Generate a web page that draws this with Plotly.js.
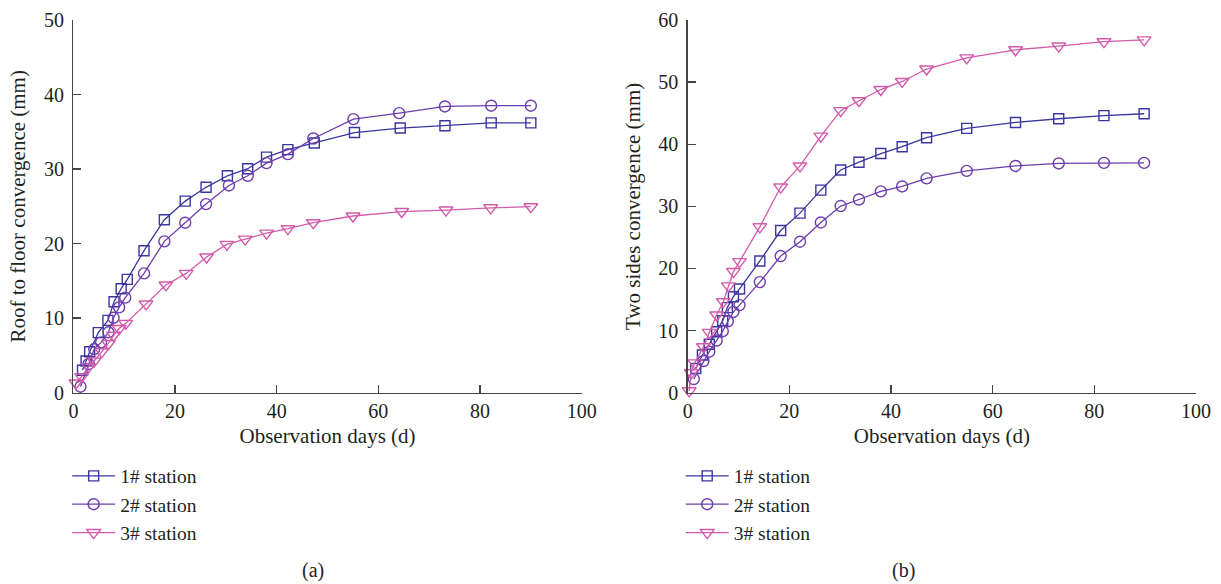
<!DOCTYPE html>
<html>
<head>
<meta charset="utf-8">
<script src="https://cdn.plot.ly/plotly-3.0.1.min.js"></script>
<style>html,body{margin:0;padding:0;background:#fff;}#chart{width:1221px;height:584px;}</style>
</head>
<body>
<div id="chart"></div>
<script>
// ---- Data (a) Roof to floor convergence ----
const seriesNames = ["1# station", "2# station", "3# station"];
const a1x = [1.8, 2.5, 3.2, 4.9, 6.8, 8.0, 9.4, 10.6, 13.9, 17.9, 22.0, 26.1, 30.3, 34.3, 38.0, 42.2, 47.4, 55.3, 64.3, 73.1, 82.2, 90.0];
const a1y = [3.0, 4.25, 5.5, 8.05, 9.7, 12.2, 13.95, 15.2, 19.05, 23.2, 25.7, 27.55, 29.1, 30.05, 31.6, 32.6, 33.5, 34.9, 35.5, 35.8, 36.2, 36.2];
const a2x = [1.4, 3.0, 4.1, 5.45, 6.9, 7.9, 9.0, 10.2, 13.9, 17.9, 22.0, 26.1, 30.6, 34.3, 38.0, 42.2, 47.2, 55.1, 64.1, 73.1, 82.2, 90.0];
const a2y = [0.8, 3.85, 5.85, 6.75, 8.1, 10.05, 11.45, 12.75, 16.0, 20.3, 22.8, 25.3, 27.8, 29.1, 30.8, 32.0, 34.1, 36.7, 37.5, 38.4, 38.5, 38.5];
const a3x = [0.5, 1.6, 3.0, 4.1, 5.6, 6.9, 7.9, 9.0, 10.3, 14.3, 18.2, 22.2, 26.2, 30.2, 33.8, 38.0, 42.2, 47.2, 55.0, 64.6, 73.3, 82.1, 90.0];
const a3y = [1.3, 2.15, 3.5, 4.25, 5.5, 6.6, 7.7, 8.6, 9.3, 11.9, 14.45, 16.0, 18.2, 19.9, 20.6, 21.4, 22.0, 22.8, 23.7, 24.3, 24.5, 24.8, 24.95];
// ---- Data (b) Two sides convergence ----
const b1x = [1.6, 2.9, 4.25, 5.7, 6.9, 7.8, 9.0, 10.2, 14.2, 18.3, 22.1, 26.2, 30.1, 33.7, 38.0, 42.2, 47.0, 54.9, 64.5, 73.0, 81.9, 89.8];
const b1y = [3.9, 6.07, 7.8, 9.8, 11.6, 13.7, 15.45, 16.7, 21.2, 26.1, 28.9, 32.6, 35.85, 37.1, 38.5, 39.6, 41.05, 42.55, 43.5, 44.1, 44.6, 44.9];
const b2x = [1.2, 3.1, 4.25, 5.7, 6.9, 7.9, 9.0, 10.2, 14.2, 18.3, 22.1, 26.2, 30.1, 33.7, 38.0, 42.2, 47.0, 54.9, 64.5, 73.0, 81.9, 89.8];
const b2y = [2.2, 5.1, 6.6, 8.4, 9.9, 11.5, 13.0, 14.1, 17.8, 22.0, 24.3, 27.4, 30.05, 31.1, 32.4, 33.2, 34.5, 35.7, 36.5, 36.9, 37.0, 37.0];
const b3x = [0.3, 0.7, 1.4, 3.1, 4.25, 5.7, 7.0, 8.0, 9.0, 10.2, 14.2, 18.3, 22.1, 26.2, 30.1, 33.7, 38.0, 42.2, 47.0, 54.9, 64.5, 73.0, 81.9, 89.8];
const b3y = [0.3, 3.2, 4.8, 7.4, 9.7, 12.5, 14.65, 17.2, 19.5, 21.1, 26.7, 33.1, 36.5, 41.3, 45.4, 47.0, 48.8, 50.1, 52.1, 53.9, 55.2, 55.8, 56.5, 56.8];

const xTicks = [0, 20, 40, 60, 80, 100];
const yTicksA = [0, 10, 20, 30, 40, 50];
const yTicksB = [0, 10, 20, 30, 40, 50, 60];

const colors = ["#3b35a0", "#6d3cae", "#d25aab"];
const symbols = ["square-open", "circle-open", "triangle-down-open"];
const sizes = [10, 11, 12];
const FONT = "Liberation Serif, Times New Roman, serif";

function mk(x, y, i, xa, ya, leg) {
  return {
    x: x, y: y, name: seriesNames[i], type: "scatter", mode: "lines+markers",
    xaxis: xa, yaxis: ya, legend: leg,
    line: {color: colors[i], width: 1.3},
    marker: {symbol: symbols[i], size: sizes[i], color: colors[i], line: {color: colors[i], width: 1.4}},
    cliponaxis: false
  };
}

const data = [
  mk(a1x, a1y, 0, "x", "y", "legend"),
  mk(a2x, a2y, 1, "x", "y", "legend"),
  mk(a3x, a3y, 2, "x", "y", "legend"),
  mk(b1x, b1y, 0, "x2", "y2", "legend2"),
  mk(b2x, b2y, 1, "x2", "y2", "legend2"),
  mk(b3x, b3y, 2, "x2", "y2", "legend2")
];

const axisCommon = {
  showline: true, linecolor: "#444", linewidth: 1.3, mirror: false,
  ticks: "inside", ticklen: 8, tickwidth: 1.3, tickcolor: "#444",
  showgrid: false, zeroline: false,
  tickfont: {family: FONT, size: 20, color: "#231f20"}
};
const titleFont = {family: FONT, size: 21, color: "#231f20"};
const legFont = {family: FONT, size: 19.5, color: "#231f20"};

const layout = {
  width: 1221, height: 584,
  margin: {l: 0, r: 0, t: 0, b: 0},
  paper_bgcolor: "#fff", plot_bgcolor: "#fff",
  font: {family: FONT, color: "#231f20"},
  xaxis: Object.assign({}, axisCommon, {domain: [0.0601, 0.4764], range: [0, 100], tickvals: xTicks, anchor: "y",
    title: {text: "Observation days (d)", font: titleFont, standoff: 7}}),
  yaxis: Object.assign({}, axisCommon, {domain: [0.3276, 0.9658], range: [0, 50], tickvals: yTicksA, anchor: "x",
    ticklabelstandoff: 4,
    title: {text: "Roof to floor convergence (mm)", font: titleFont, standoff: 12}}),
  xaxis2: Object.assign({}, axisCommon, {domain: [0.5632, 0.9795], range: [0, 100], tickvals: xTicks, anchor: "y2",
    title: {text: "Observation days (d)", font: titleFont, standoff: 7}}),
  yaxis2: Object.assign({}, axisCommon, {domain: [0.3276, 0.9658], range: [0, 60], tickvals: yTicksB, anchor: "x2",
    ticklabelstandoff: 4,
    title: {text: "Two sides convergence (mm)", font: titleFont, standoff: 12}}),
  legend: {x: 0.055, y: 0.218, xanchor: "left", yanchor: "top", bgcolor: "rgba(0,0,0,0)",
    font: legFont, itemwidth: 43, tracegroupgap: 0},
  legend2: {x: 0.5575, y: 0.218, xanchor: "left", yanchor: "top", bgcolor: "rgba(0,0,0,0)",
    font: legFont, itemwidth: 43, tracegroupgap: 0},
  showlegend: true,
  annotations: [
    {text: "(a)", x: 300 / 1221, y: 1 - 570 / 584, xref: "paper", yref: "paper", yanchor: "middle", showarrow: false,
      font: {family: FONT, size: 20, color: "#231f20"}},
    {text: "(b)", x: 917 / 1221, y: 1 - 570 / 584, xref: "paper", yref: "paper", yanchor: "middle", showarrow: false,
      font: {family: FONT, size: 20, color: "#231f20"}}
  ]
};

Plotly.newPlot("chart", data, layout, {displayModeBar: false, staticPlot: true});
</script>
</body>
</html>
